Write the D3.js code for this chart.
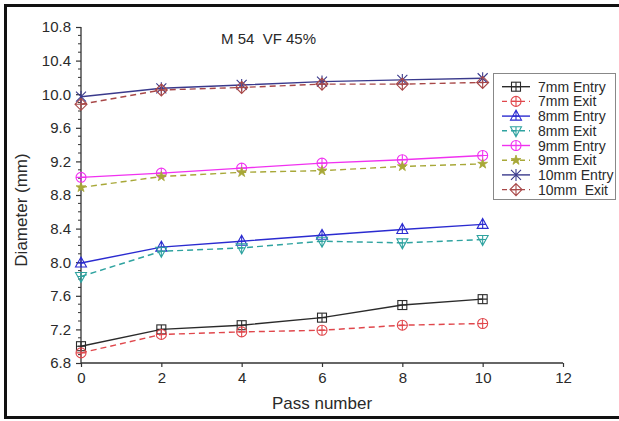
<!DOCTYPE html>
<html>
<head>
<meta charset="utf-8">
<script src="https://cdn.jsdelivr.net/npm/d3@7"></script>
<style>
  body { margin: 0; background: #fff; }
  text { font-family: "Liberation Sans", Arial, sans-serif; fill: #2a2a2a; }
</style>
</head>
<body>
<script>
const passes = [0, 2, 4, 6, 8, 10];
const xTicks = [0, 2, 4, 6, 8, 10, 12];
const yTicks = [6.8, 7.2, 7.6, 8.0, 8.4, 8.8, 9.2, 9.6, 10.0, 10.4, 10.8];

const seriesNames = ["7mm Entry", "7mm Exit", "8mm Entry", "8mm Exit", "9mm Entry", "9mm Exit", "10mm Entry", "10mm  Exit"];
const entry7 = [7.00, 7.20, 7.25, 7.34, 7.49, 7.56];
const exit7 = [6.92, 7.14, 7.17, 7.19, 7.25, 7.27];
const entry8 = [7.99, 8.18, 8.25, 8.32, 8.39, 8.45];
const exit8 = [7.83, 8.13, 8.17, 8.25, 8.23, 8.27];
const entry9 = [9.01, 9.06, 9.12, 9.18, 9.22, 9.27];
const exit9 = [8.89, 9.02, 9.07, 9.09, 9.14, 9.17];
const entry10 = [9.97, 10.07, 10.11, 10.15, 10.17, 10.19];
const exit10 = [9.88, 10.05, 10.08, 10.12, 10.12, 10.14];

const colors = ["#2b2b2b", "#e0474c", "#2b2bd0", "#2fa3a0", "#f032f0", "#a8a838", "#3a3a8c", "#a84848"];
const markers = ["square", "circle", "triUp", "triDown", "circle", "star", "asterisk", "diamond"];
const dashed = [false, true, false, true, false, true, false, true];

const allValues = [entry7, exit7, entry8, exit8, entry9, exit9, entry10, exit10];
const series = seriesNames.map((name, i) => ({
  name: name,
  color: colors[i],
  marker: markers[i],
  dashed: dashed[i],
  values: passes.map((p, j) => ({ x: p, y: allValues[i][j] }))
}));

const w = 619;
const h = 421;

const xScale = d3.scaleLinear().domain([0, 12]).range([81, 563]);
const yScale = d3.scaleLinear().domain([6.8, 10.8]).range([363, 27]);

const svg = d3.select("body").append("svg")
  .attr("width", w)
  .attr("height", h);

// outer frame (right side falls outside the picture)
svg.append("path")
  .attr("d", "M625,5.5 H5.5 V417.5 H625")
  .attr("fill", "none")
  .attr("stroke", "#111")
  .attr("stroke-width", 3);

// minor ticks on y
const minor = d3.range(6.8, 10.81, 0.1).filter(v => Math.abs(Math.round(v / 0.4) * 0.4 - v) > 0.01);
svg.append("g")
  .attr("transform", "translate(81,0)")
  .selectAll("line")
  .data(minor)
  .enter()
  .append("line")
  .attr("x1", -3)
  .attr("x2", 0)
  .attr("y1", d => yScale(d))
  .attr("y2", d => yScale(d))
  .attr("stroke", "#333")
  .attr("stroke-width", 1);

const xAxis = d3.axisBottom(xScale).tickValues(xTicks).tickSize(4).tickPadding(5).tickFormat(d3.format("d"));
const yAxis = d3.axisLeft(yScale).tickValues(yTicks).tickSize(5).tickPadding(5).tickFormat(d3.format(".1f"));

const gx = svg.append("g")
  .attr("transform", "translate(0,363)")
  .call(xAxis);
const gy = svg.append("g")
  .attr("transform", "translate(81,0)")
  .call(yAxis);

[gx, gy].forEach(g => {
  g.select(".domain").attr("stroke", "#333").attr("stroke-width", 1.3);
  g.selectAll(".tick line").attr("stroke", "#333").attr("stroke-width", 1.2);
  g.selectAll(".tick text")
    .style("font-family", "Liberation Sans, Arial, sans-serif")
    .style("font-size", "15px")
    .attr("fill", "#2a2a2a");
});
// remove end caps of the domain paths
gx.select(".domain").attr("d", "M81,0H563");
gy.select(".domain").attr("d", "M0,27V363");

svg.append("text")
  .attr("x", 322)
  .attr("y", 409)
  .attr("text-anchor", "middle")
  .style("font-size", "17px")
  .text("Pass number");

svg.append("text")
  .attr("transform", "translate(27,210) rotate(-90)")
  .attr("text-anchor", "middle")
  .style("font-size", "17px")
  .text("Diameter (mm)");

svg.append("text")
  .attr("x", 221)
  .attr("y", 44)
  .style("font-size", "15px")
  .attr("xml:space", "preserve")
  .text("M 54  VF 45%");

function drawMarker(g, type, color) {
  const s = g.append("g").attr("fill", "none").attr("stroke", color).attr("stroke-width", 1.1);
  if (type === "square") {
    s.append("rect").attr("x", -4.5).attr("y", -4.5).attr("width", 9).attr("height", 9);
    s.append("path").attr("d", "M-4.5,0H4.5M0,-4.5V4.5");
  } else if (type === "circle") {
    s.append("circle").attr("r", 5);
    s.append("path").attr("d", "M-5,0H5M0,-5V5");
  } else if (type === "triUp") {
    s.append("path").attr("d", "M0,-6L5.5,4H-5.5Z M0,-6V4 M-3,0H3");
  } else if (type === "triDown") {
    s.append("path").attr("d", "M0,6L5.5,-4H-5.5Z M0,6V-4 M-3,0H3");
  } else if (type === "star") {
    s.append("path")
      .attr("d", d3.symbol().type(d3.symbolStar).size(30)())
      .attr("fill", color)
      .attr("stroke-width", 0.8);
  } else if (type === "asterisk") {
    s.append("path").attr("d", "M-5,-5L5,5M-5,5L5,-5M0,-6V6");
  } else if (type === "diamond") {
    s.append("path").attr("d", "M0,-6L6,0L0,6L-6,0Z M-6,0H6M0,-6V6");
  }
}

const line = d3.line().x(d => xScale(d.x)).y(d => yScale(d.y));

series.forEach(s => {
  svg.append("path")
    .datum(s.values)
    .attr("d", line)
    .attr("fill", "none")
    .attr("stroke", s.color)
    .attr("stroke-width", 1.4)
    .attr("stroke-dasharray", s.dashed ? "6,4" : null);
  s.values.forEach(v => {
    const g = svg.append("g").attr("transform", "translate(" + xScale(v.x) + "," + yScale(v.y) + ")");
    drawMarker(g, s.marker, s.color);
  });
});

// legend
const legend = svg.append("g").attr("transform", "translate(493,73)");
legend.append("rect")
  .attr("x", 0.5)
  .attr("y", 0.5)
  .attr("width", 122)
  .attr("height", 126)
  .attr("fill", "#fff")
  .attr("stroke", "#888")
  .attr("stroke-width", 1);

series.forEach((s, i) => {
  const row = legend.append("g").attr("transform", "translate(0," + (13.7 + i * 14.7) + ")");
  row.append("line")
    .attr("x1", 9)
    .attr("x2", 37)
    .attr("stroke", s.color)
    .attr("stroke-width", 1.4)
    .attr("stroke-dasharray", s.dashed ? "5,4" : null);
  drawMarker(row.append("g").attr("transform", "translate(23,0)"), s.marker, s.color);
  row.append("text")
    .attr("x", 45)
    .attr("dy", "0.36em")
    .attr("xml:space", "preserve")
    .style("font-size", "14px")
    .text(s.name);
});
</script>
</body>
</html>
